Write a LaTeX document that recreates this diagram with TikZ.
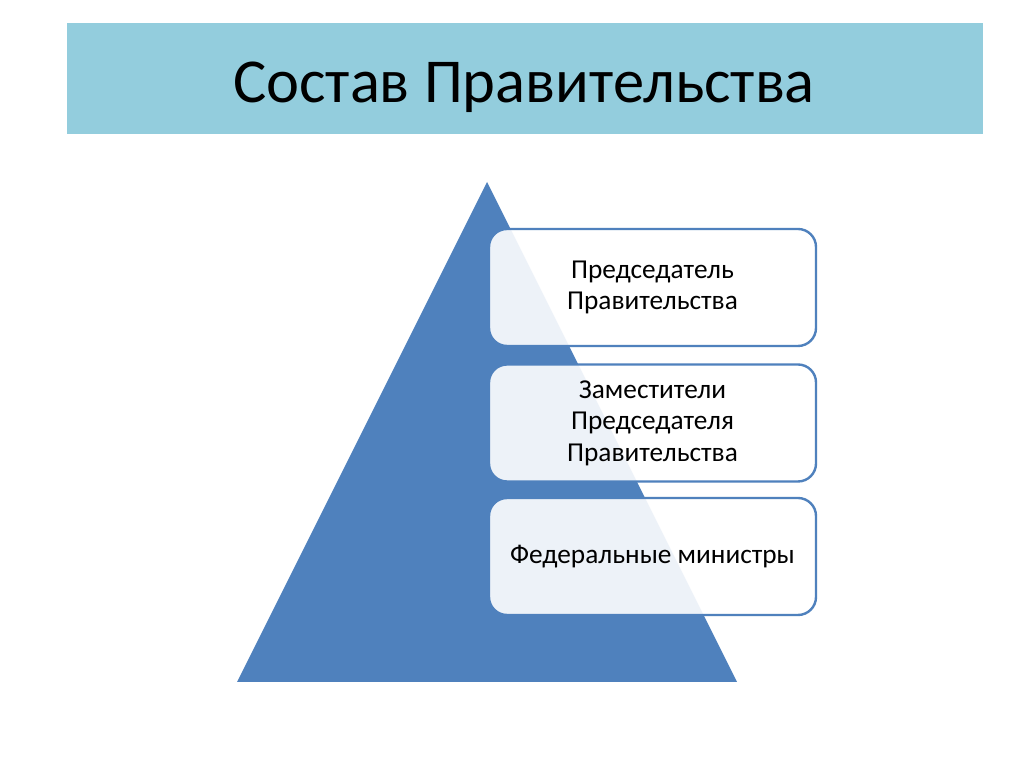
\documentclass[tikz,border=0pt]{standalone}
\usepackage{fontspec}
\setmainfont{Carlito}
\definecolor{titlebg}{HTML}{93CDDD}
\definecolor{pyr}{HTML}{4F81BD}
\definecolor{boxline}{HTML}{4F81BD}
\tikzset{
  levelbox/.style={draw=boxline, line width=2.4pt, fill=white, fill opacity=0.9, text opacity=1,
    rounded corners=18pt, minimum width=327pt, minimum height=117pt, align=center,
    font=\fontsize{27.3}{31.5}\selectfont, inner sep=0pt},
}
\begin{document}
\begin{tikzpicture}[x=1pt,y=1pt]
\useasboundingbox (0,0) rectangle (1024,767);
\fill[white] (0,0) rectangle (1024,767);
% title bar
\node[fill=titlebg, minimum width=916pt, minimum height=111pt, inner sep=0pt] (title) at (525,688.5) {};
\node[font=\fontsize{62.5}{70}\selectfont, anchor=base, inner sep=0pt] (titletext) at (524,664) {Состав Правительства};
% pyramid
\coordinate (apex) at (487,585);
\coordinate (bl) at (237,85);
\coordinate (br) at (737,85);
\fill[pyr] (apex) -- (bl) -- (br) -- cycle;
% boxes
\node[levelbox] (b1) at (652.5,479.5) {Председатель\\Правительства};
\node[levelbox] (b2) at (652.5,344) {Заместители\\Председателя\\Правительства};
\node[levelbox] (b3) at (652.5,210.5) {\raisebox{-3pt}{Федеральные министры}};
\end{tikzpicture}
\end{document}
